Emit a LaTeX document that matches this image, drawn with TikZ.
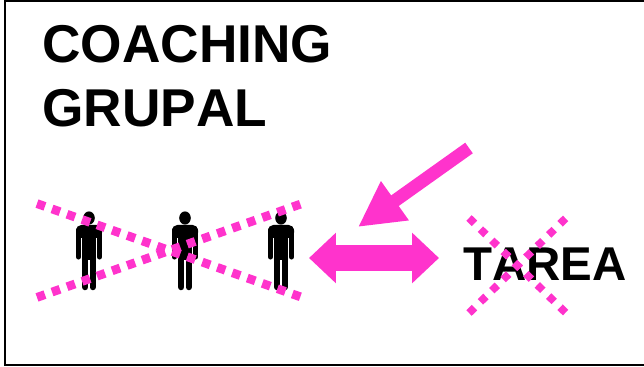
\documentclass[tikz,border=0pt]{standalone}
\usepackage{fontspec}
\setmainfont[Kerning=Off]{Liberation Sans}
\usetikzlibrary{arrows.meta, positioning}
\definecolor{pinkmark}{HTML}{FF33CC}

\begin{document}
\begin{tikzpicture}[
  x=0.02cm, y=-0.02cm,
  title/.style={font=\fontsize{30.3pt}{36pt}\selectfont\bfseries, inner sep=0pt, anchor=base west},
  crossbig/.style={draw=pinkmark, line width=5pt, dash pattern=on 4.8pt off 4.27pt},
  crosssmall/.style={draw=pinkmark, line width=4.4pt, dash pattern=on 4.4pt off 4.67pt},
  arr/.style={pinkmark, line width=7.4pt, -{Triangle[length=25.8pt, width=25.5pt]}},
  dblarr/.style={pinkmark, line width=14.7pt, {Triangle[length=15.3pt, width=27.8pt]}-{Triangle[length=15.3pt, width=27.8pt]}},
  person/.pic={
    \fill (0,0) ellipse (5.8 and 6.6);
    \fill[rounded corners=3pt] (-13,7) rectangle (13,20);
    \fill (-7,10) rectangle (7,42);
    \draw[line width=2.9pt, line cap=round] (-10.5,12) -- (-10.5,39);
    \draw[line width=2.9pt, line cap=round] (10.5,12) -- (10.5,39);
    \draw[line width=3.7pt, line cap=round] (-3.8,38) -- (-3.8,69);
    \draw[line width=3.7pt, line cap=round] (3.8,38) -- (3.8,69);
  }
]
\useasboundingbox (0,0) rectangle (644,367);
\draw[line width=0.9pt] (644,1) -- (5,1) -- (5,365) -- (644,365);

\node[title] (coaching) at (42,63) {COACHING};
\node[title] (grupal) at (42,127) {GRUPAL};
\node[title, font=\fontsize{27pt}{32pt}\selectfont\bfseries] (tarea) at (463,280) {TAREA};

\pic at (89,218) {person};
\pic at (185,218) {person};
\pic at (281,218) {person};

% crosses over the group and over the task
\coordinate (g1) at (37,203.6);
\coordinate (g2) at (302,297.4);
\coordinate (g3) at (37,297.4);
\coordinate (g4) at (302,203.6);
\draw[crossbig] (g1) -- (g2);
\draw[crossbig] (g3) -- (g4);

\coordinate (t1) at (469,218);
\coordinate (t2) at (566,313);
\coordinate (t3) at (469,313);
\coordinate (t4) at (566,218);
\draw[crosssmall] (t1) -- (t2);
\draw[crosssmall] (t3) -- (t4);

\coordinate (a1) at (469,148);
\coordinate (a2) at (358,227);
\coordinate (d1) at (309,258);
\coordinate (d2) at (439,258);
\draw[arr] (a1) -- (a2);
\draw[dblarr] (d1) -- (d2);
\end{tikzpicture}
\end{document}
